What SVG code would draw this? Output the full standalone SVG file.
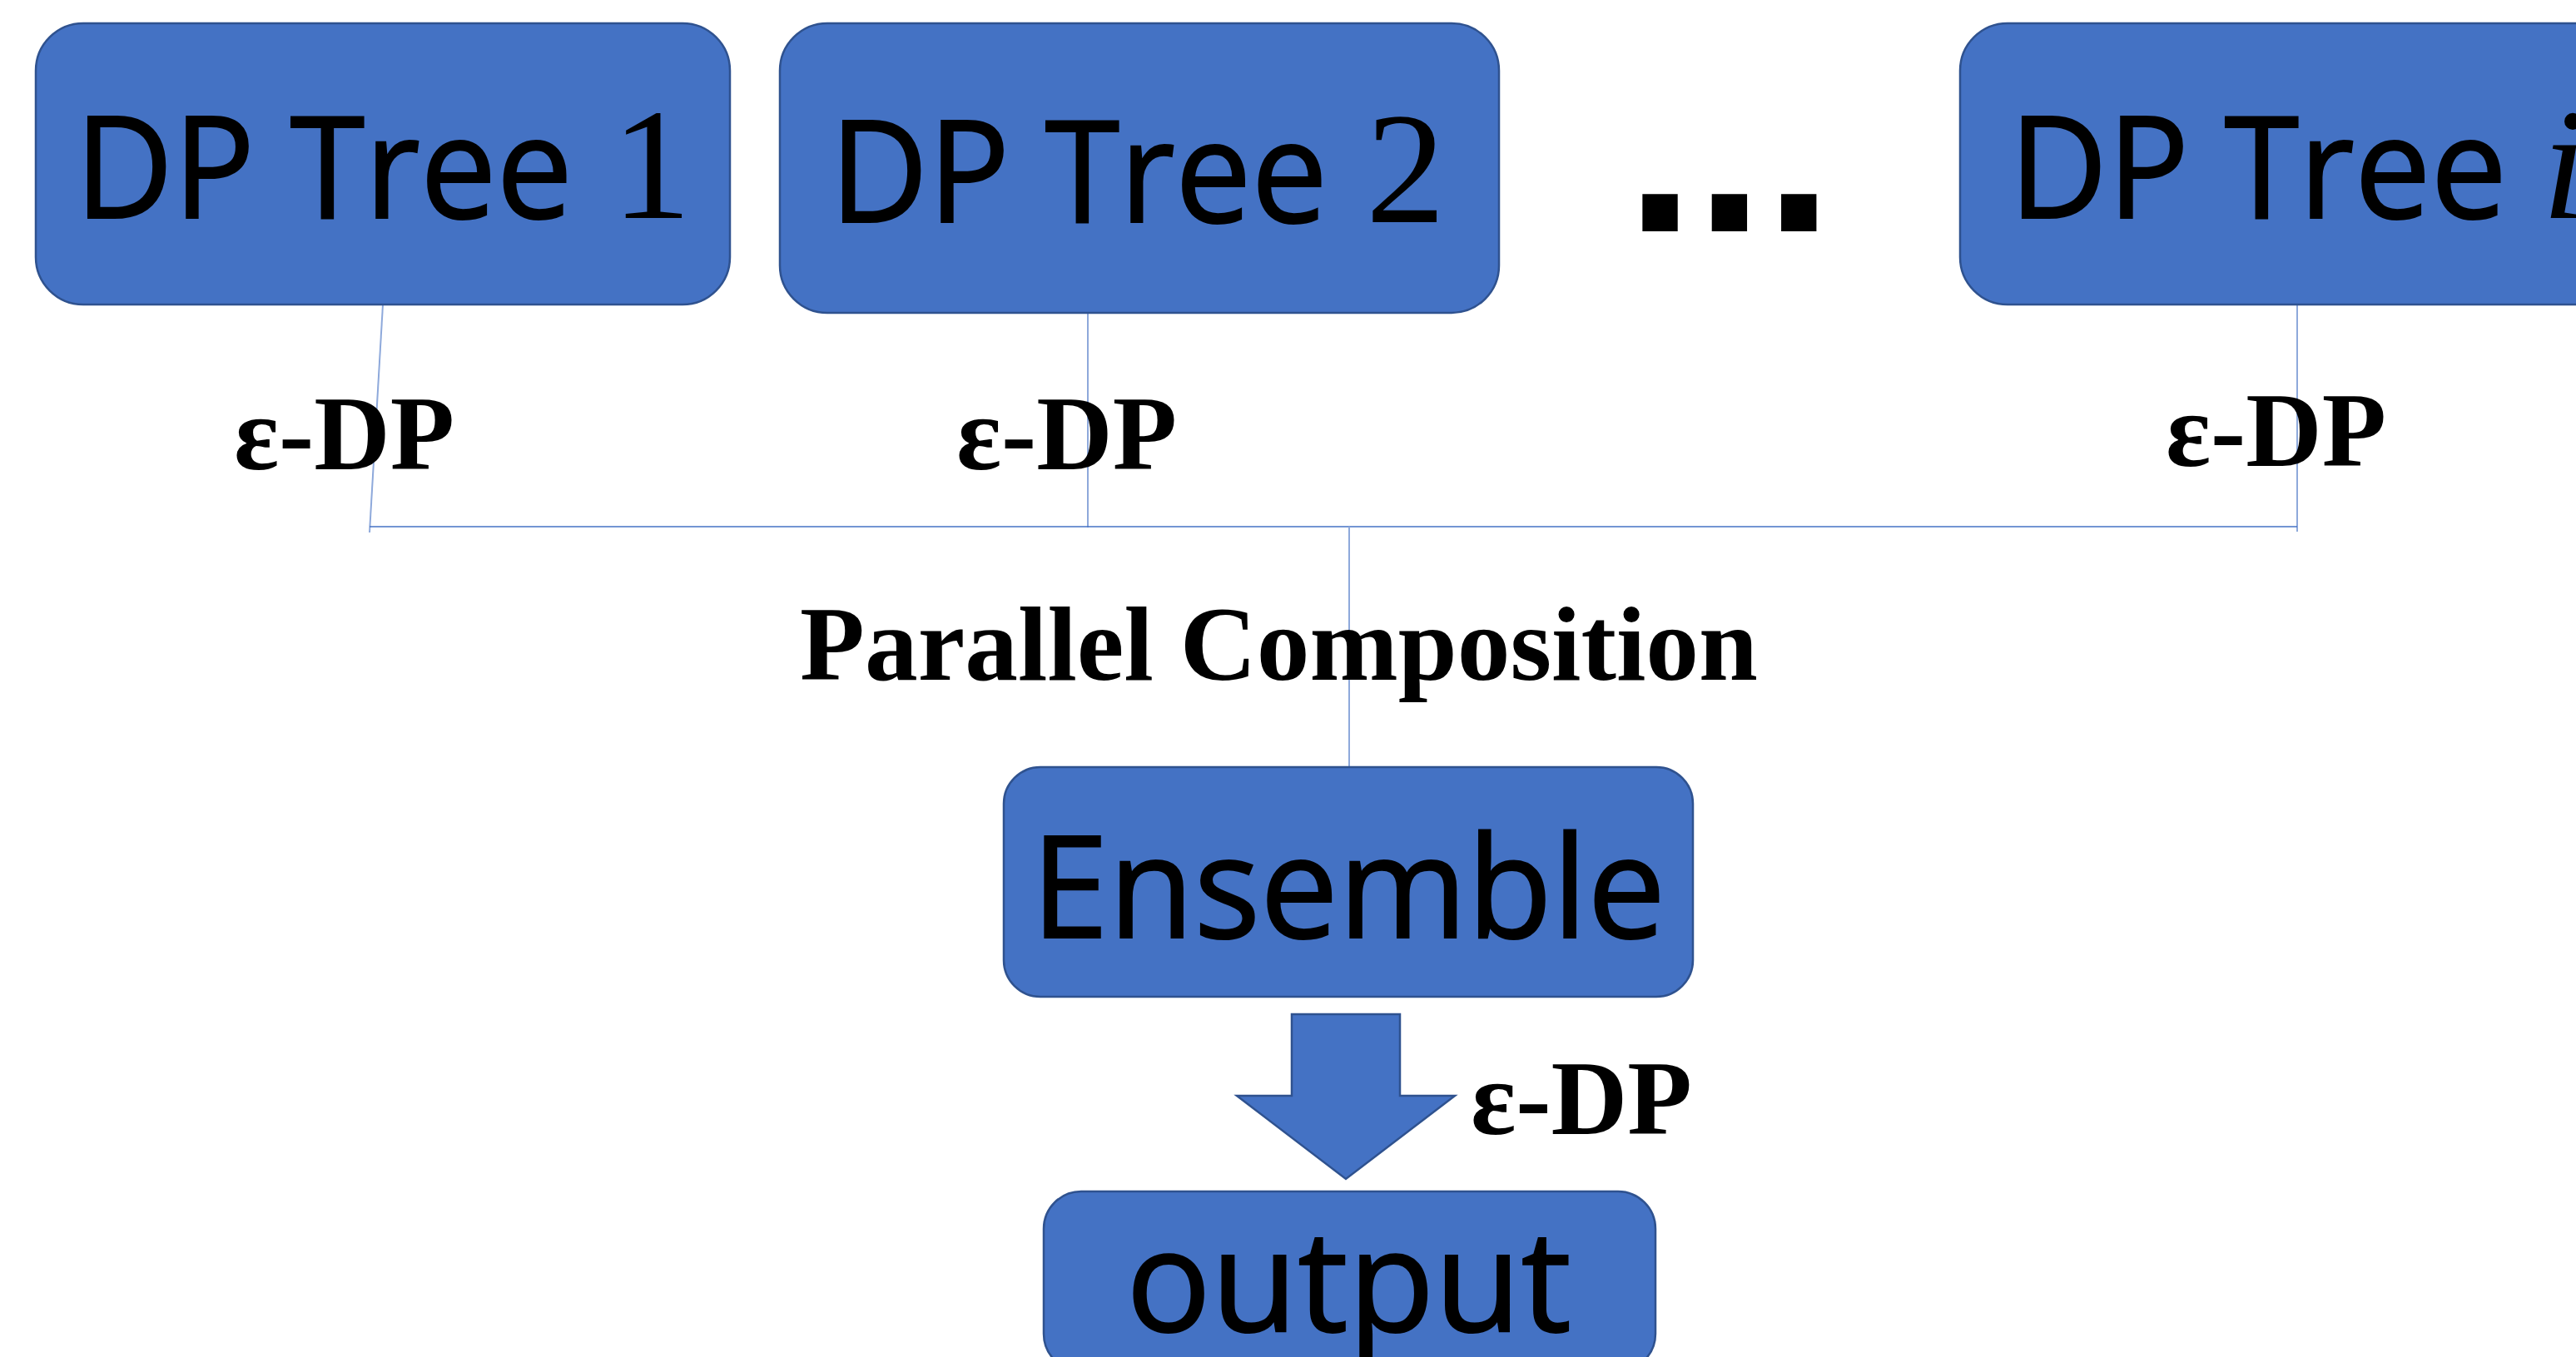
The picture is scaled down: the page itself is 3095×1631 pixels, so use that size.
<svg xmlns="http://www.w3.org/2000/svg" width="3095" height="1631" viewBox="0 0 3095 1631">
  <style>
    .box { fill: #4472C4; stroke: #2F528F; stroke-width: 2.5; }
    .lbl { font-family: "Open Sans", "Noto Sans", "DejaVu Sans", sans-serif; font-size: 170px; fill: #000; stroke: #000; stroke-width: 2; }
    .num { font-family: "Liberation Serif", "Times New Roman", serif; font-size: 191px; fill: #000; }
    .it { font-family: "Liberation Serif", "Times New Roman", serif; font-size: 191px; font-style: italic; fill: #000; }
    .dp { font-family: "Liberation Serif", "Times New Roman", serif; font-size: 127px; font-weight: bold; fill: #000; }
    .dots { font-family: "Liberation Sans", Arial, sans-serif; font-size: 300px; font-weight: bold; fill: #000; }
    .bus { stroke: #4472C4; stroke-width: 1.6; fill: none; }
    .drop { stroke: #8EA9DB; stroke-width: 2; fill: none; }
  </style>
  <rect width="3095" height="1631" fill="#FFFFFF"/>

  <!-- connectors from the trees into the ensemble -->
  <g id="connectors">
    <line class="drop" x1="460" y1="366" x2="444" y2="640"/>
    <line class="drop" x1="1307" y1="376" x2="1307" y2="634"/>
    <line class="drop" x1="2760" y1="366" x2="2760" y2="639"/>
    <line class="bus" x1="444" y1="633" x2="2760" y2="633"/>
    <line class="drop" x1="1621" y1="633" x2="1621" y2="922"/>
    <polygon id="arrow-down" class="box" points="1552,1219 1682,1219 1682,1317 1748,1317 1617,1417 1486,1317 1552,1317"/>
  </g>

  <g id="tree-1">
    <rect class="box" x="43" y="28" width="834" height="338" rx="57" ry="57"/>
    <text class="lbl" x="90" y="262" textLength="598" lengthAdjust="spacingAndGlyphs">DP Tree</text>
    <text class="num" x="735" y="262">1</text>
  </g>

  <g id="tree-2">
    <rect class="box" x="937" y="28" width="864" height="348" rx="57" ry="57"/>
    <text class="lbl" x="997" y="267" textLength="598" lengthAdjust="spacingAndGlyphs">DP Tree</text>
    <text class="num" x="1641" y="267">2</text>
  </g>

  <g id="ellipsis">
    <text class="dots" x="1953" y="278">...</text>
  </g>

  <g id="tree-i">
    <rect class="box" x="2355" y="28" width="900" height="338" rx="57" ry="57"/>
    <text class="lbl" x="2414" y="262" textLength="598" lengthAdjust="spacingAndGlyphs">DP Tree</text>
    <text class="it" x="3054" y="262">i</text>
  </g>

  <g id="edge-labels">
    <text class="dp" x="281" y="564" textLength="265" lengthAdjust="spacingAndGlyphs">ε-DP</text>
    <text class="dp" x="1149" y="564" textLength="265" lengthAdjust="spacingAndGlyphs">ε-DP</text>
    <text class="dp" x="2602" y="560" textLength="265" lengthAdjust="spacingAndGlyphs">ε-DP</text>
    <text class="dp" x="961" y="817" font-size="128" textLength="1151" lengthAdjust="spacingAndGlyphs">Parallel Composition</text>
    <text class="dp" x="1767" y="1363" textLength="266" lengthAdjust="spacingAndGlyphs">ε-DP</text>
  </g>

  <g id="ensemble">
    <rect class="box" x="1206" y="922" width="828" height="276" rx="44" ry="44"/>
    <text class="lbl" x="1239" y="1127" textLength="762" lengthAdjust="spacingAndGlyphs">Ensemble</text>
  </g>

  <g id="output">
    <rect class="box" x="1254" y="1432" width="735" height="216" rx="45" ry="45"/>
    <text class="lbl" x="1353" y="1600" textLength="535" lengthAdjust="spacingAndGlyphs">output</text>
  </g>
</svg>
